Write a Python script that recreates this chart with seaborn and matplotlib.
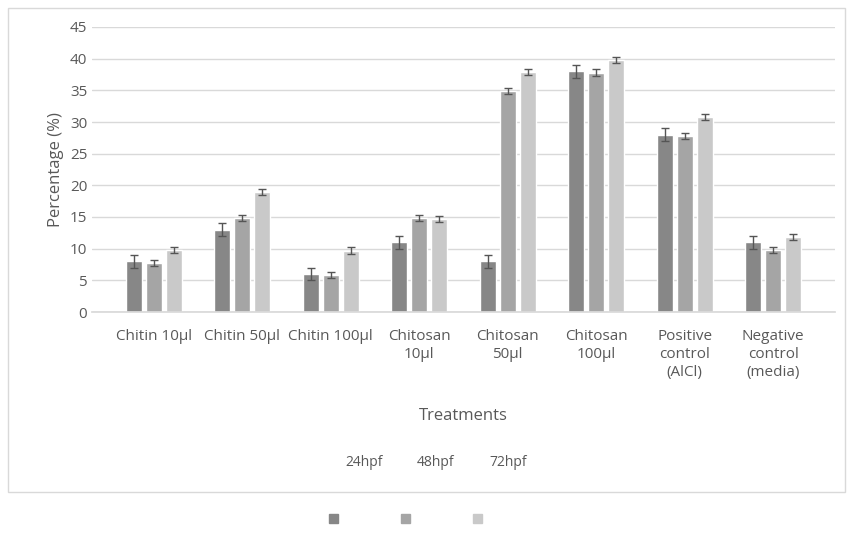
import matplotlib
matplotlib.use("Agg")
import matplotlib.pyplot as plt
import numpy as np
import pandas as pd
import seaborn as sns
from matplotlib.patches import Rectangle

CATEGORIES = ["Chitin 10µl", "Chitin 50µl", "Chitin 100µl", "Chitosan\n10µl", "Chitosan\n50µl",
              "Chitosan\n100µl", "Positive\ncontrol\n(AlCl)", "Negative\ncontrol\n(media)"]
SERIES = ["24hpf", "48hpf", "72hpf"]
V24 = [8, 13, 6, 11, 8, 38, 28, 11]
V48 = [7.7, 14.8, 5.8, 14.8, 34.9, 37.8, 27.8, 9.8]
V72 = [9.8, 18.9, 9.7, 14.7, 37.9, 39.8, 30.8, 11.8]
E24 = [1, 1, 1, 1, 1, 1, 1, 1]
E48 = [0.5, 0.5, 0.5, 0.5, 0.5, 0.5, 0.5, 0.5]
E72 = [0.5, 0.5, 0.5, 0.5, 0.5, 0.5, 0.5, 0.5]
COLORS = ["#878787", "#a5a5a5", "#c9c9c9"]

df = pd.DataFrame({
    "cat": CATEGORIES * 3,
    "series": np.repeat(SERIES, len(CATEGORIES)),
    "val": V24 + V48 + V72,
    "err": E24 + E48 + E72,
})

sns.set_theme(style="white")
plt.rcParams["font.family"] = ["Open Sans", "DejaVu Sans"]

fig = plt.figure(figsize=(8.52, 5.35), dpi=100)
fig.patches.append(Rectangle((8 / 852, 1 - 492 / 535), 837 / 852, 484 / 535, transform=fig.transFigure,
                             fill=False, edgecolor="#d9d9d9", lw=1))
ax = fig.add_axes([92 / 852, 1 - 312 / 535, 743 / 852, 285 / 535])
sns.barplot(data=df, x="cat", y="val", hue="series", palette=COLORS, ax=ax,
            width=0.68, gap=0.2, legend=False, errorbar=None)
for cont, s in zip(ax.containers, SERIES):
    sub = df[df["series"] == s]
    xs = [b.get_x() + b.get_width() / 2 for b in cont]
    ax.errorbar(xs, sub["val"], yerr=sub["err"], fmt="none", ecolor="#555555", elinewidth=1, capsize=3)

ax.set_ylim(0, 45)
ax.set_yticks(range(0, 46, 5))
ax.yaxis.grid(True, color="#d9d9d9", lw=1)
ax.set_axisbelow(True)
for sp in ["top", "right", "left"]:
    ax.spines[sp].set_visible(False)
ax.spines["bottom"].set_color("#d9d9d9")
ax.tick_params(axis="y", length=0, labelsize=11, colors="#595959")
ax.tick_params(axis="x", length=0, labelsize=11, colors="#595959", pad=12)
ax.set_xlabel("Treatments", fontsize=12, color="#595959", labelpad=20)
ax.set_ylabel("Percentage (%)", fontsize=12, color="#595959")
for t in ax.get_xticklabels():
    t.set_va("top")
    t.set_linespacing(1.3)

for x, s in zip([364, 436, 508], SERIES):
    fig.text(x / 852, 1 - 462 / 535, s, ha="center", va="center", fontsize=10, color="#595959")
for x, c in zip([333, 405, 477], COLORS):
    fig.patches.append(Rectangle(((x - 4) / 852, 1 - 523 / 535), 9 / 852, 9 / 535,
                                 transform=fig.transFigure, color=c))

fig.savefig("out.png", dpi=100)
